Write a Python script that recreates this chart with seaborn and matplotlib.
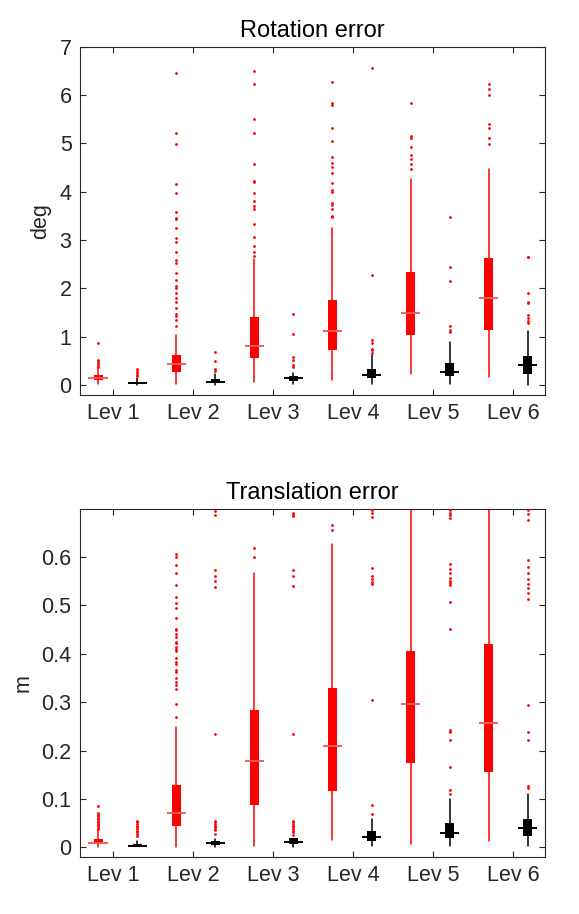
import numpy as np
import pandas as pd
import matplotlib
matplotlib.use("Agg")
import matplotlib.pyplot as plt
import seaborn as sns

# Box statistics, 12 boxes per panel: (Lev k, red), (Lev k, black), ...
levels = ["Lev 1", "Lev 2", "Lev 3", "Lev 4", "Lev 5", "Lev 6"]
series = ["red", "black"]

# Rotation error (deg)
rot_q1 = [0.10, 0.04, 0.27, 0.05, 0.555, 0.09, 0.73, 0.14, 1.03, 0.19, 1.14, 0.24]
rot_med = [0.14, 0.055, 0.44, 0.07, 0.82, 0.14, 1.12, 0.21, 1.49, 0.28, 1.80, 0.42]
rot_q3 = [0.21, 0.07, 0.62, 0.12, 1.40, 0.19, 1.755, 0.33, 2.34, 0.46, 2.62, 0.60]
rot_lo = [0.03, 0.01, 0.03, 0.01, 0.07, 0.03, 0.10, 0.02, 0.23, 0.03, 0.16, 0.0]
rot_hi = [0.35, 0.14, 1.03, 0.24, 2.61, 0.26, 3.26, 0.62, 4.26, 0.90, 4.47, 1.12]
rot_fliers = [
    [0.38, 0.42, 0.45, 0.49, 0.52, 0.87],
    [0.19, 0.22, 0.26, 0.29, 0.33],
    [1.23, 1.35, 1.42, 1.47, 1.60, 1.71, 1.80, 1.91, 2.01, 2.05, 2.17, 2.32, 2.53,
     2.59, 2.76, 2.96, 3.05, 3.25, 3.43, 3.45, 3.59, 3.97, 4.16, 4.99, 5.21, 6.46],
    [0.29, 0.33, 0.49, 0.69],
    [2.68, 2.76, 2.88, 3.07, 3.34, 3.64, 3.71, 3.81, 3.97, 4.21, 4.23, 4.58, 5.22,
     5.50, 6.23, 6.50],
    [0.38, 0.42, 0.52, 0.59, 1.06, 1.48],
    [3.47, 3.50, 3.64, 3.73, 3.76, 4.00, 4.03, 4.18, 4.39, 4.51, 4.60, 4.72, 5.05,
     5.31, 5.80, 5.84, 6.26],
    [0.67, 0.73, 0.74, 0.87, 0.94, 2.27, 6.55],
    [4.47, 4.58, 4.67, 4.75, 4.92, 5.12, 5.15, 5.84],
    [1.10, 1.14, 1.23, 2.16, 2.44, 3.48],
    [4.98, 5.12, 5.31, 5.39, 6.00, 6.12, 6.23],
    [1.28, 1.33, 1.39, 1.46, 1.70, 1.72, 1.91, 2.64, 2.66],
]

# Translation error (m)
tr_q1 = [0.007, 0.0015, 0.045, 0.005, 0.088, 0.007, 0.116, 0.014, 0.175, 0.019, 0.156, 0.024]
tr_med = [0.009, 0.0035, 0.070, 0.008, 0.178, 0.010, 0.210, 0.022, 0.296, 0.030, 0.257, 0.040]
tr_q3 = [0.017, 0.006, 0.128, 0.012, 0.283, 0.019, 0.329, 0.033, 0.406, 0.051, 0.420, 0.059]
tr_lo = [0.0, 0.0, 0.0, 0.0, 0.003, 0.0, 0.016, 0.002, 0.006, 0.003, 0.012, 0.002]
tr_hi = [0.035, 0.012, 0.249, 0.017, 0.568, 0.019, 0.628, 0.058, 0.72, 0.100, 0.72, 0.111]
tr_fliers = [
    [0.037, 0.040, 0.043, 0.046, 0.049, 0.052, 0.055, 0.058, 0.061, 0.064, 0.067, 0.070, 0.086],
    [0.024, 0.028, 0.031, 0.034, 0.038, 0.041, 0.045, 0.048, 0.052, 0.055],
    [0.27, 0.297, 0.328, 0.335, 0.342, 0.349, 0.363, 0.366, 0.380, 0.384, 0.391, 0.406,
     0.409, 0.415, 0.422, 0.425, 0.435, 0.441, 0.449, 0.452, 0.475, 0.494, 0.505, 0.517,
     0.543, 0.568, 0.583, 0.601, 0.607],
    [0.028, 0.035, 0.038, 0.042, 0.045, 0.049, 0.052, 0.055, 0.235, 0.539, 0.55, 0.56,
     0.574, 0.688, 0.695],
    [0.601, 0.619],
    [0.026, 0.031, 0.034, 0.038, 0.041, 0.045, 0.048, 0.052, 0.055, 0.235, 0.540, 0.56,
     0.574, 0.684, 0.688, 0.692],
    [0.655, 0.666],
    [0.069, 0.087, 0.305, 0.544, 0.548, 0.555, 0.560, 0.577, 0.683, 0.692, 0.698],
    [],
    [0.111, 0.118, 0.166, 0.222, 0.239, 0.243, 0.451, 0.508, 0.542, 0.546, 0.550, 0.556,
     0.567, 0.575, 0.586, 0.680, 0.687, 0.692, 0.698],
    [],
    [0.123, 0.126, 0.222, 0.239, 0.295, 0.513, 0.525, 0.536, 0.544, 0.555, 0.567, 0.579,
     0.593, 0.676, 0.690, 0.698],
]

sns.set_style("ticks")
plt.rcParams["font.family"] = ["Liberation Sans", "DejaVu Sans"]

AX_COLOR = "#262626"
MEDIAN_COLORS = {"red": "#ff5a5a", "black": "black"}


def draw_panel(ax, q1, med, q3, lo, hi, fliers, title, ylabel, ylim, yticks, yticklabels):
    positions = np.arange(1, len(q1) + 1)
    colors = [series[i % 2] for i in range(len(q1))]
    for pos, a, m, b, w0, w1, c in zip(positions, q1, med, q3, lo, hi, colors):
        stats = [dict(q1=a, med=m, q3=b, whislo=w0, whishi=w1, fliers=[])]
        ax.bxp(stats, positions=[pos], widths=0.23, patch_artist=True,
               showcaps=False, showfliers=False,
               boxprops=dict(facecolor=c, edgecolor=c, linewidth=0),
               whiskerprops=dict(color=c, linewidth=1.1),
               medianprops=dict(linewidth=0))
        ax.hlines(m, pos - 0.25, pos + 0.25, colors=MEDIAN_COLORS[c], linewidth=1.4, zorder=4)

    # outliers, drawn through seaborn from a long table
    fl = pd.DataFrame([(p, v) for p, vals in zip(positions, fliers) for v in vals],
                      columns=["pos", "value"])
    sns.scatterplot(data=fl, x="pos", y="value", ax=ax, color="red", s=4,
                    marker="o", linewidth=0, zorder=5)

    ax.set_xlim(0.53, 12.44)
    ax.set_ylim(*ylim)
    ax.set_xticks([1.38, 3.43, 5.48, 7.53, 9.58, 11.63])
    ax.set_xticklabels(levels)
    ax.set_yticks(yticks)
    ax.set_yticklabels(yticklabels)
    ax.set_xlabel("")
    ax.set_ylabel(ylabel, fontsize=15.5, color=AX_COLOR, labelpad=6)
    ax.set_title(title, fontsize=17, color="black", pad=7)
    ax.tick_params(direction="in", top=True, right=True, length=4, width=0.8,
                   color=AX_COLOR, labelcolor=AX_COLOR, labelsize=15.5, pad=6)
    for sp in ax.spines.values():
        sp.set_visible(True)
        sp.set_color(AX_COLOR)
        sp.set_linewidth(0.8)


fig = plt.figure(figsize=(5.79, 9.14), dpi=100)
ax1 = fig.add_axes([0.138, 0.568, 0.803, 0.381])
ax2 = fig.add_axes([0.138, 0.0624, 0.803, 0.381])

draw_panel(ax1, rot_q1, rot_med, rot_q3, rot_lo, rot_hi, rot_fliers,
           "Rotation error", "deg", (-0.2, 7.0), list(range(8)),
           [str(t) for t in range(8)])
draw_panel(ax2, tr_q1, tr_med, tr_q3, tr_lo, tr_hi, tr_fliers,
           "Translation error", "m", (-0.02, 0.7),
           [0, 0.1, 0.2, 0.3, 0.4, 0.5, 0.6],
           ["0", "0.1", "0.2", "0.3", "0.4", "0.5", "0.6"])

fig.savefig("out.png", dpi=100)
